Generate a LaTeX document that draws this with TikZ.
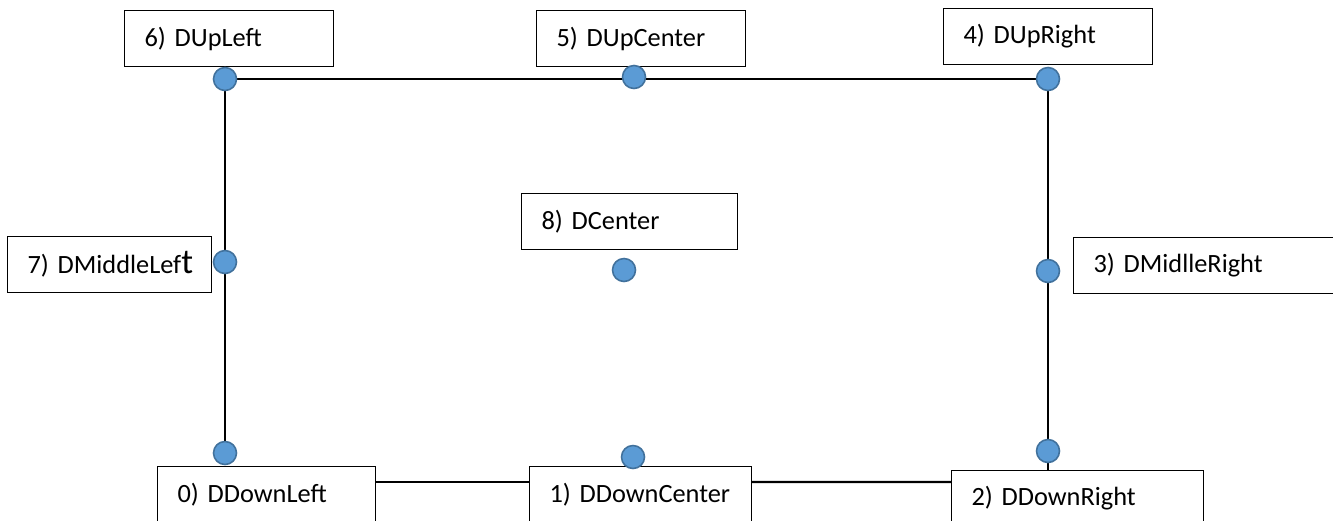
\documentclass[tikz,border=0pt]{standalone}
\usepackage{fontspec}
\setmainfont{Carlito}
\usepackage{xcolor}
\usetikzlibrary{backgrounds}

\definecolor{dotfill}{HTML}{5B9BD5}
\definecolor{dotline}{HTML}{41719C}

\begin{document}
\begin{tikzpicture}[
  x=0.02cm, y=-0.02cm,
  tag/.style={
    rectangle, draw=black, fill=white, line width=0.6pt,
    anchor=north west, minimum height=1.12cm, inner xsep=0.4cm,
    align=left, font=\fontsize{15}{18}\selectfont
  },
  pt/.style={
    circle, draw=dotline, fill=dotfill, line width=0.9pt,
    minimum size=0.46cm, inner sep=0pt
  },
  wire/.style={draw=black, line width=1.4pt}
]

% ── Marco ─────────────────────────────────────────────────────
\useasboundingbox (0,0) rectangle (1333,521);
\clip (0,0) rectangle (1333,521);

% ── Etiquetas arriba ──────────────────────────────────────────
\node[tag, text width=3.38cm] (bUL) at (124,10)  {6) DUpLeft};
\node[tag, text width=3.38cm] (bUC) at (536,10)  {5) DUpCenter};
\node[tag, text width=3.38cm] (bUR) at (943,8)   {4) DUpRight};

% ── Etiquetas al medio ────────────────────────────────────────
\node[tag, text width=3.28cm] (bML) at (7,236)
  {\mbox{7) DMiddleLef{\fontsize{20}{18}\selectfont t}}};
\node[tag, text width=3.52cm] (bC)  at (521,193)  {8) DCenter};
\node[tag, text width=5.2cm]  (bMR) at (1073,237) {3) DMidlleRight};

% ── Etiquetas abajo ───────────────────────────────────────────
\node[tag, text width=3.56cm] (bDL) at (157,466) {0) DDownLeft};
\node[tag, text width=3.64cm] (bDC) at (529,466) {1) DDownCenter};
\node[tag, text width=4.24cm] (bDR) at (951,470) {2) DDownRight};

% ── Puntos ────────────────────────────────────────────────────
\node[pt] (dUL) at (225,79)  {};
\node[pt] (dUC) at (634,77)  {};
\node[pt] (dUR) at (1048,79) {};
\node[pt] (dML) at (225,262) {};
\node[pt] (dC)  at (624,270) {};
\node[pt] (dMR) at (1048,271) {};
\node[pt] (dDL) at (225,453) {};
\node[pt] (dDC) at (633,457) {};
\node[pt] (dDR) at (1048,451) {};

% ── Líneas ────────────────────────────────────────────────────
\begin{scope}[on background layer]
  % arriba
  \draw[wire] (dUL.center) -- (dUR.center);
  % izquierda
  \draw[wire] (dUL.center) -- (dDL.center);
  % derecha, hasta la etiqueta 2
  \draw[wire] (dUR.center) -- (dDR.center) -- (dDR |- bDR.north);
  % abajo, entre etiquetas
  \draw[wire] ([yshift=-0.32cm]bDL.north east) -- ([yshift=-0.32cm]bDC.north west);
  \draw[wire] ([yshift=-0.32cm]bDC.north east) -- ([yshift=-0.24cm]bDR.north west);
\end{scope}

\end{tikzpicture}
\end{document}
